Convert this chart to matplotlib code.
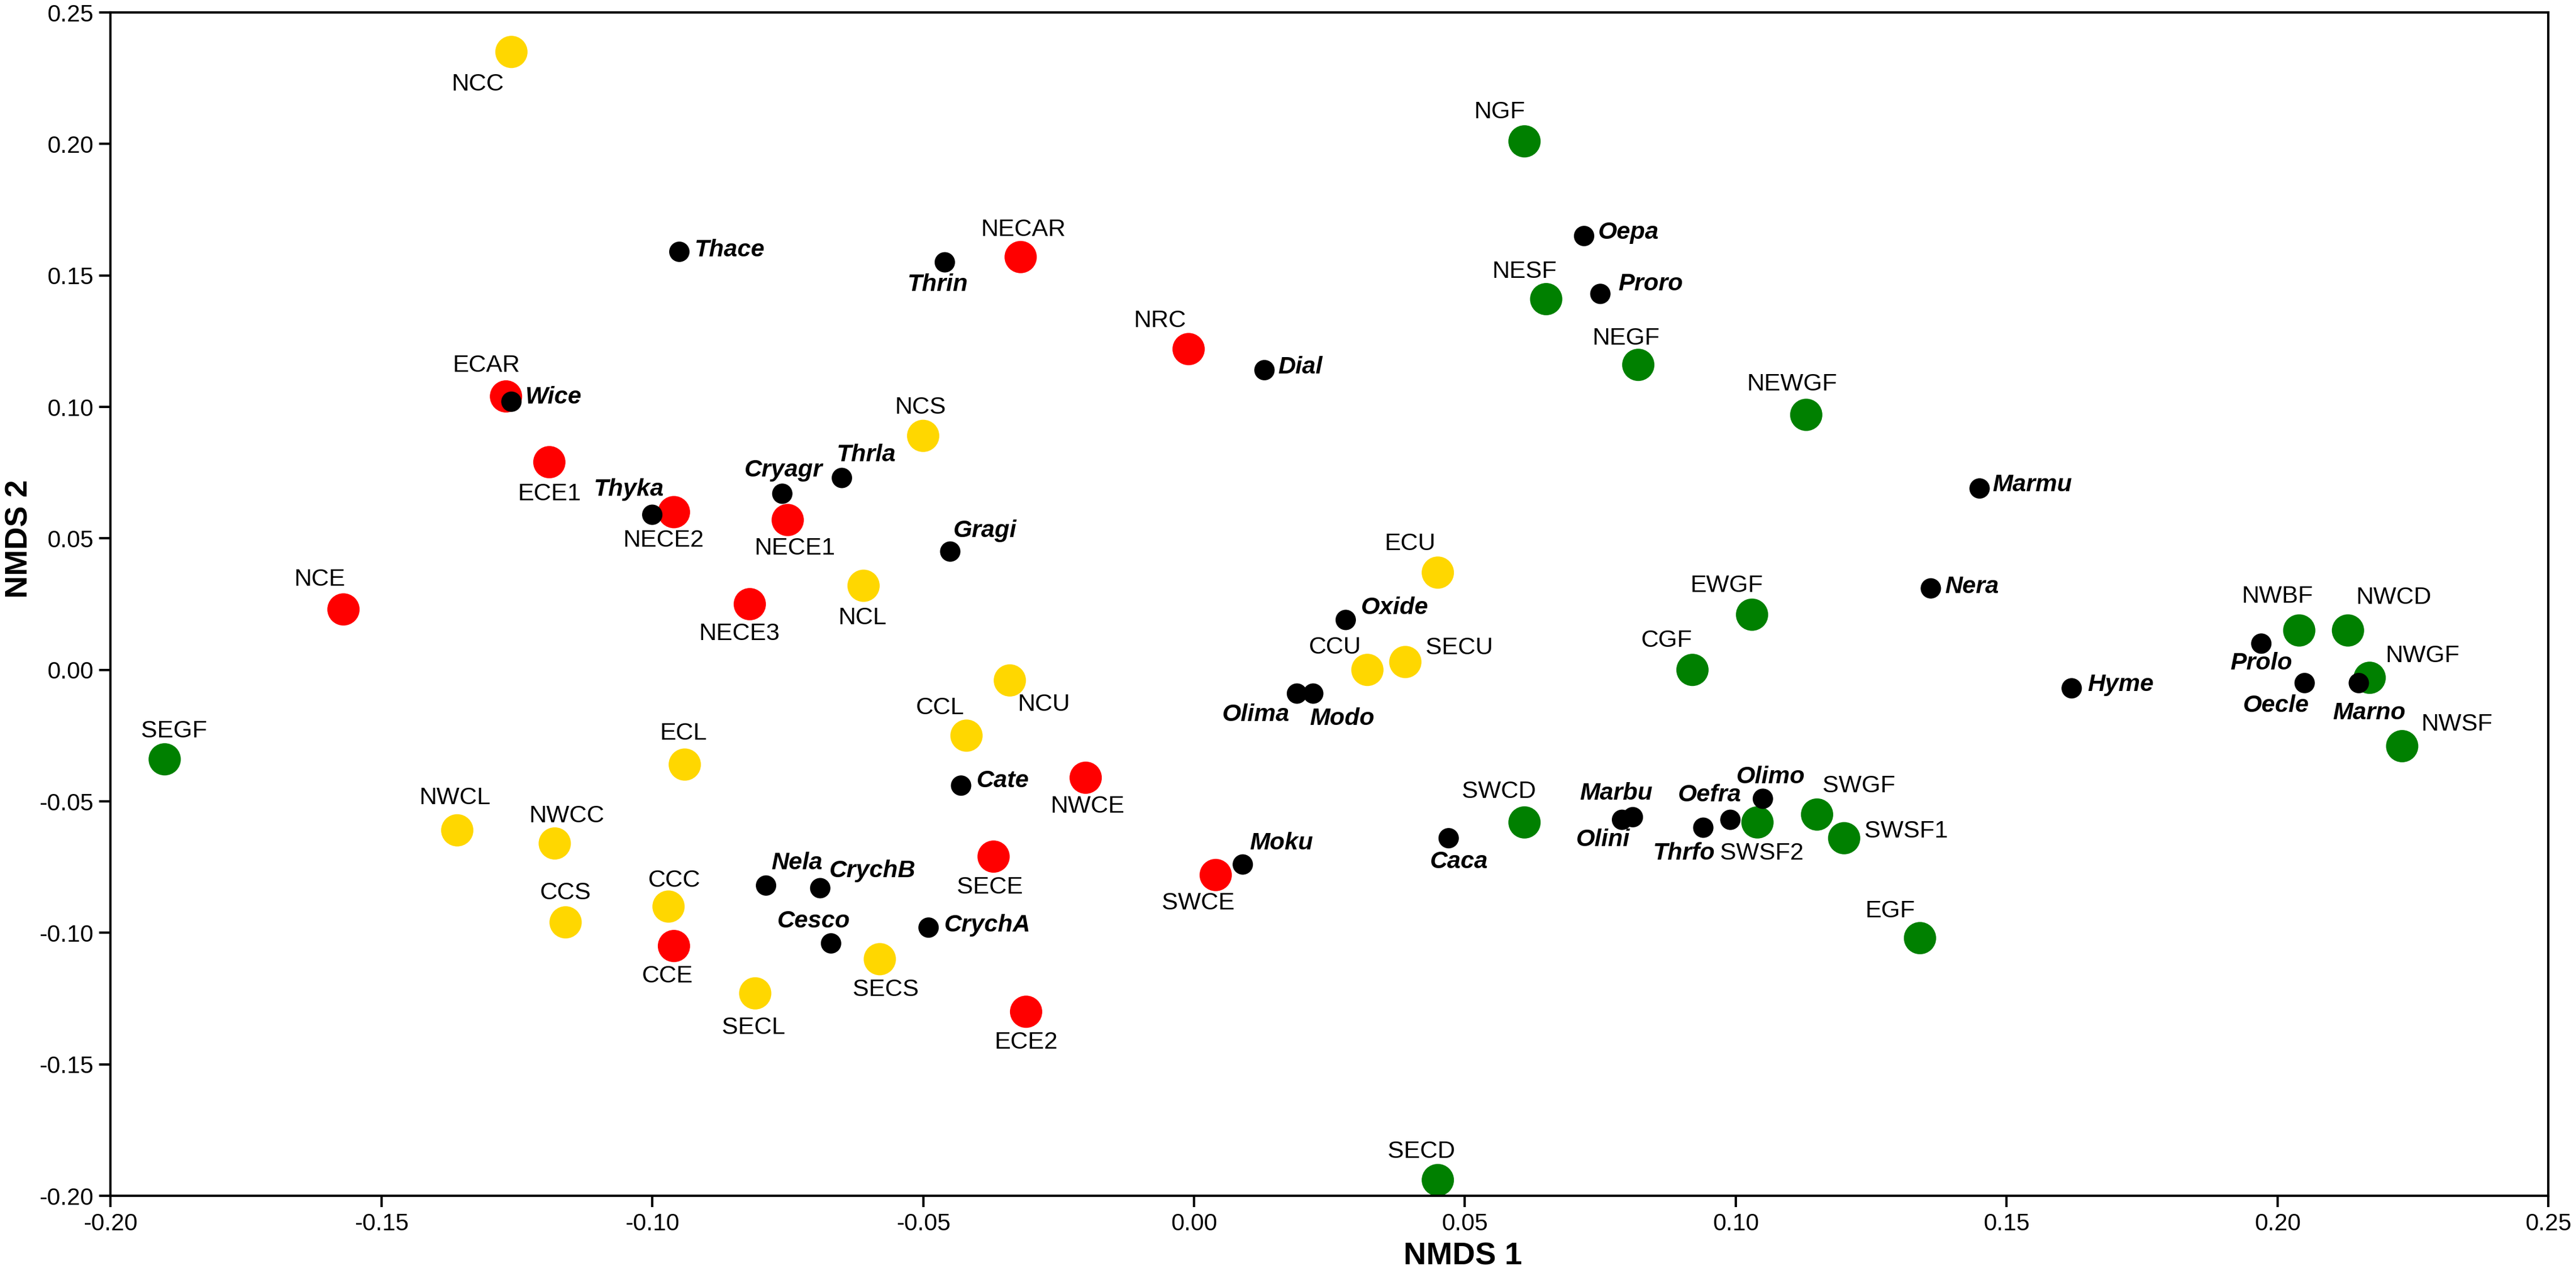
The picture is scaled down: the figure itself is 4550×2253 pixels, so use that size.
import matplotlib
matplotlib.use("Agg")
import matplotlib.pyplot as plt

plt.rcParams['font.family'] = ['Liberation Sans', 'DejaVu Sans']
plt.rcParams['axes.unicode_minus'] = False

# ------------------------
# NMDS site scores
# ------------------------
gold_names = ['NCC', 'NCS', 'NCL', 'ECU', 'CCU', 'SECU', 'NCU', 'CCL',
              'ECL', 'NWCL', 'NWCC', 'CCC', 'CCS', 'SECL', 'SECS']
gold_x = [-0.126, -0.050, -0.061, 0.045, 0.032, 0.039, -0.034, -0.042,
          -0.094, -0.136, -0.118, -0.097, -0.116, -0.081, -0.058]
gold_y = [0.235, 0.089, 0.032, 0.037, 0.000, 0.003, -0.004, -0.025,
          -0.036, -0.061, -0.066, -0.090, -0.096, -0.123, -0.110]

red_names = ['NECAR', 'NRC', 'ECAR', 'ECE1', 'NECE2', 'NECE1', 'NECE3',
             'NCE', 'NWCE', 'SECE', 'SWCE', 'CCE', 'ECE2']
red_x = [-0.032, -0.001, -0.127, -0.119, -0.096, -0.075, -0.082,
         -0.157, -0.020, -0.037, 0.004, -0.096, -0.031]
red_y = [0.157, 0.122, 0.104, 0.079, 0.060, 0.057, 0.025,
         0.023, -0.041, -0.071, -0.078, -0.105, -0.130]

green_names = ['NGF', 'NESF', 'NEGF', 'NEWGF', 'EWGF', 'CGF', 'SWCD', 'SWSF2',
               'SWGF', 'SWSF1', 'EGF', 'SECD', 'SEGF', 'NWBF', 'NWCD', 'NWGF', 'NWSF']
green_x = [0.061, 0.065, 0.082, 0.113, 0.103, 0.092, 0.061, 0.104,
           0.115, 0.120, 0.134, 0.045, -0.190, 0.204, 0.213, 0.217, 0.223]
green_y = [0.201, 0.141, 0.116, 0.097, 0.021, 0.000, -0.058, -0.058,
           -0.055, -0.064, -0.102, -0.194, -0.034, 0.015, 0.015, -0.003, -0.029]

# species scores
sp_names = ['Thace', 'Thrin', 'Oepa', 'Proro', 'Dial', 'Wice', 'Marmu', 'Thrla',
            'Cryagr', 'Thyka', 'Gragi', 'Oxide', 'Nera', 'Olima', 'Modo', 'Hyme',
            'Prolo', 'Oecle', 'Marno', 'Cate', 'Moku', 'Caca', 'Marbu', 'Olini',
            'Oefra', 'Olimo', 'Thrfo', 'Nela', 'CrychB', 'Cesco', 'CrychA']
sp_x = [-0.095, -0.046, 0.072, 0.075, 0.013, -0.126, 0.145, -0.065,
        -0.076, -0.100, -0.045, 0.028, 0.136, 0.019, 0.022, 0.162,
        0.197, 0.205, 0.215, -0.043, 0.009, 0.047, 0.081, 0.079,
        0.099, 0.105, 0.094, -0.079, -0.069, -0.067, -0.049]
sp_y = [0.159, 0.155, 0.165, 0.143, 0.114, 0.102, 0.069, 0.073,
        0.067, 0.059, 0.045, 0.019, 0.031, -0.009, -0.009, -0.007,
        0.010, -0.005, -0.005, -0.044, -0.074, -0.064, -0.056, -0.057,
        -0.057, -0.049, -0.060, -0.082, -0.083, -0.104, -0.098]

tick_vals = [-0.20, -0.15, -0.10, -0.05, 0.00, 0.05, 0.10, 0.15, 0.20, 0.25]
tick_text = ['-0.20', '-0.15', '-0.10', '-0.05', '0.00', '0.05', '0.10', '0.15', '0.20', '0.25']

# ------------------------
# label placement: (dx, dy) in output pixels, dy up, and alignment
# ------------------------
offs = {
    'NCC': (-59, -57, 'center'), 'ECAR': (-35, 54, 'center'), 'ECE1': (0, -56, 'center'),
    'NECE2': (-18, -50, 'center'), 'NECE1': (13, -50, 'center'), 'NCE': (-42, 53, 'center'),
    'NECE3': (-18, -52, 'center'), 'NCL': (-2, -57, 'center'), 'SEGF': (16, 50, 'center'),
    'ECL': (-2, 55, 'center'), 'NWCL': (-4, 57, 'center'), 'NWCC': (21, 48, 'center'),
    'CCC': (10, 46, 'center'), 'CCS': (0, 52, 'center'), 'CCE': (-11, -53, 'center'),
    'SECL': (-3, -61, 'center'), 'NECAR': (5, 48, 'center'), 'NRC': (-51, 50, 'center'),
    'NESF': (-38, 49, 'center'), 'NEGF': (-22, 47, 'center'), 'NCS': (-5, 50, 'center'),
    'ECU': (-49, 51, 'center'), 'CCU': (-57, 40, 'center'), 'SECU': (36, 25, 'left'),
    'NCU': (60, -43, 'center'), 'CCL': (-46, 49, 'center'), 'NWCE': (3, -51, 'center'),
    'SWCE': (-31, -50, 'center'), 'SECE': (-7, -54, 'center'), 'SECS': (10, -54, 'center'),
    'ECE2': (0, -54, 'center'), 'EWGF': (-45, 51, 'center'), 'CGF': (-45, 52, 'center'),
    'NWBF': (-39, 60, 'center'), 'NWCD': (81, 58, 'center'), 'NWGF': (28, 39, 'left'),
    'NWSF': (34, 39, 'left'), 'SWSF2': (8, -55, 'center'), 'SWGF': (74, 50, 'center'),
    'SWSF1': (36, 12, 'left'), 'EGF': (-53, 48, 'center'), 'NGF': (-44, 52, 'center'),
    'NEWGF': (-25, 54, 'center'), 'SWCD': (-45, 54, 'center'), 'SECD': (-29, 50, 'center'),
    # species
    'Thace': (27, 3, 'left'), 'Wice': (25, 8, 'left'), 'Thyka': (-41, 45, 'center'),
    'Cryagr': (2, 41, 'center'), 'Thrla': (43, 41, 'center'), 'Nela': (54, 40, 'center'),
    'CrychB': (16, 30, 'left'), 'Cesco': (-31, 39, 'center'), 'Thrin': (-12, -39, 'center'),
    'Dial': (24, 5, 'left'), 'Oepa': (25, 6, 'left'), 'Proro': (32, 17, 'left'),
    'Gragi': (5, 37, 'left'), 'Oxide': (27, 21, 'left'), 'Cate': (27, 8, 'left'),
    'Moku': (12, 38, 'left'), 'CrychA': (28, 4, 'left'), 'Olima': (-72, -37, 'center'),
    'Modo': (51, -44, 'center'), 'Nera': (25, 3, 'left'), 'Prolo': (0, -35, 'center'),
    'Oecle': (-50, -40, 'center'), 'Marno': (18, -53, 'center'), 'Hyme': (28, 6, 'left'),
    'Olimo': (14, 38, 'center'), 'Oefra': (-36, 44, 'center'), 'Thrfo': (-34, -45, 'center'),
    'Marmu': (23, 6, 'left'), 'Caca': (18, -42, 'center'), 'Marbu': (-30, 42, 'center'),
    'Olini': (-33, -35, 'center'),
}

DPI = 300
def pt(v):
    return v * 72.0 / DPI

fig = plt.figure(figsize=(4550 / DPI, 2253 / DPI), dpi=DPI)
ax = fig.add_axes([0.0429, 0.0621, 0.9464, 0.9281])

big = pt(57) ** 2
small = pt(36) ** 2

for names, xs, ys, col in [(gold_names, gold_x, gold_y, '#FFD700'),
                           (red_names, red_x, red_y, '#FF0000'),
                           (green_names, green_x, green_y, '#008000')]:
    ax.scatter(xs, ys, s=big, c=col, edgecolors='none', zorder=2)
    for n, x, y in zip(names, xs, ys):
        dx, dy, ha = offs[n]
        ax.annotate(n, (x, y), xytext=(pt(dx), pt(dy)), textcoords='offset points',
                    ha=ha, va='center', fontsize=10.3, zorder=4)

ax.scatter(sp_x, sp_y, s=small, c='black', edgecolors='none', zorder=3)
for n, x, y in zip(sp_names, sp_x, sp_y):
    dx, dy, ha = offs[n]
    ax.annotate(n, (x, y), xytext=(pt(dx), pt(dy)), textcoords='offset points',
                ha=ha, va='center', fontsize=10.3, fontweight='bold',
                fontstyle='italic', zorder=4)

ax.set_xlim(-0.20, 0.25)
ax.set_ylim(-0.20, 0.25)
ax.set_xticks(tick_vals)
ax.set_xticklabels(tick_text)
ax.set_yticks(tick_vals)
ax.set_yticklabels(tick_text)
ax.tick_params(direction='out', length=pt(20), width=1.0, labelsize=10.1, pad=2.4,
               top=False, right=False)
for s in ax.spines.values():
    s.set_linewidth(1.0)

ax.set_xlabel('NMDS 1', fontsize=13.3, fontweight='bold')
ax.set_ylabel('NMDS 2', fontsize=13.3, fontweight='bold')
ax.xaxis.set_label_coords(0.5548, -0.0387)
ax.yaxis.set_label_coords(-0.0313, 0.555)

fig.savefig('out.png', dpi=DPI)
